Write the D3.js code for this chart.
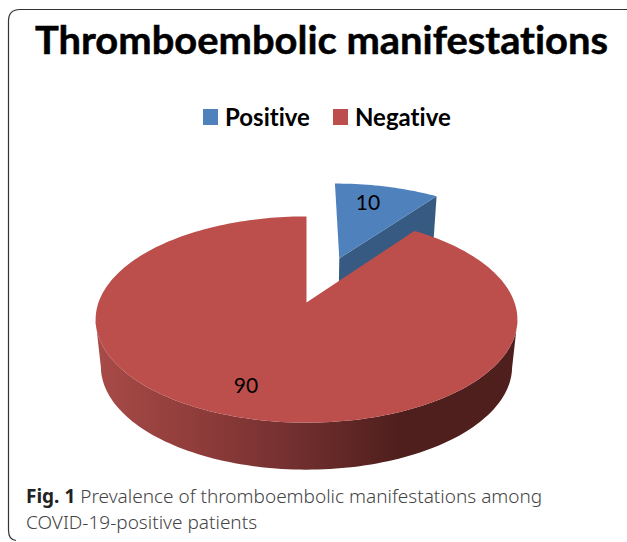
<!DOCTYPE html>
<html>
<head>
<meta charset="utf-8">
<script src="https://cdn.jsdelivr.net/npm/d3@7"></script>
<style>
html, body { margin: 0; padding: 0; background: #fff; overflow: hidden; }
svg { display: block; }
text { font-variant-ligatures: none; }
</style>
</head>
<body>
<div id="chart"></div>
<script>
var categories = ['Positive', 'Negative'];
var values = [10, 90];
var chartTitle = 'Thromboembolic manifestations';
var captionBold = 'Fig. 1';
var captionLine1 = ' Prevalence of thromboembolic manifestations among';
var captionLine2 = 'COVID-19-positive patients';

var topColors = ['#4f81bd', '#bc4f4c'];
var sideColors = ['#375a82', '#4f1f1d'];

var width = 627;
var height = 542;

var svg = d3.select('#chart').append('svg')
    .attr('width', width)
    .attr('height', height);

// perspective of the tilted disk: unit circle -> screen
var cx = 306.5;
var persp = -0.165;
var wide = 208;
var depth = 47;

function project(u, v){
    var w = 1 + persp * v;
    return [cx + wide * u / w, (302.5 + 50.4 * v) / w];
}

function lower(p){
    return [cx + (p[0] - cx) * 0.975, p[1] + depth];
}

var pie = d3.pie().sort(null);
var arcs = pie(values);
var line = d3.line();

// points of one slice on the unit circle, offset for the pulled out slice
function rim(d, ox, oy){
    var n = Math.max(2, Math.ceil((d.endAngle - d.startAngle) * 40));
    return d3.range(n + 1).map(function(i){
        var a = d.startAngle + (d.endAngle - d.startAngle) * i / n;
        return project(ox + Math.sin(a), oy - Math.cos(a));
    });
}

var defs = svg.append('defs');
var grad = defs.append('linearGradient')
    .attr('id', 'sideGrad')
    .attr('gradientUnits', 'userSpaceOnUse')
    .attr('x1', 95).attr('x2', 517).attr('y1', 0).attr('y2', 0);
[[0, '#a84b48'], [0.25, '#8e3c3a'], [0.45, '#753130'], [0.72, '#4f1f1d'], [1, '#4f1f1d']].forEach(function(s){
    grad.append('stop').attr('offset', s[0]).attr('stop-color', s[1]);
});

// frame
svg.append('path')
    .attr('d', 'M627,9.5 H20 Q8.5,9.5 8.5,21 V530 Q8.5,540 16,540.5')
    .attr('fill', 'none')
    .attr('stroke', '#333')
    .attr('stroke-width', 1.2);

// title
svg.append('text')
    .attr('x', 321.5)
    .attr('y', 54)
    .attr('text-anchor', 'middle')
    .attr('font-family', 'Lato')
    .attr('font-weight', 'bold')
    .attr('font-size', 39)
    .attr('textLength', 573)
    .attr('lengthAdjust', 'spacingAndGlyphs')
    .attr('fill', '#000')
    .attr('stroke', '#000')
    .attr('stroke-width', 0.5)
    .text(chartTitle);

// legend
var legendX = d3.scaleOrdinal().domain(categories).range([203, 333]);
var legend = svg.selectAll('.legend')
    .data(categories)
    .enter()
    .append('g')
    .attr('class', 'legend')
    .attr('transform', function(d){ return 'translate(' + legendX(d) + ',109)'; });
legend.append('rect')
    .attr('width', 15)
    .attr('height', 16)
    .attr('fill', function(d, i){ return topColors[i]; });
legend.append('text')
    .attr('x', 22)
    .attr('y', 17)
    .attr('font-family', 'Lato')
    .attr('font-weight', 'bold')
    .attr('font-size', 24)
    .attr('fill', '#000')
    .text(function(d){ return d; });

// pulled out slice
var ex = 0.17, ey = -0.474;
var posRim = rim(arcs[0], ex, ey);
var posApex = project(ex, ey);
var posEnd = posRim[posRim.length - 1];

svg.append('path')
    .attr('d', line([posApex, posEnd, lower(posEnd), lower(posApex)]) + 'Z')
    .attr('fill', sideColors[0]);
svg.append('path')
    .attr('d', line([posApex].concat(posRim)) + 'Z')
    .attr('fill', topColors[0]);

// big slice, wall runs between the two widest points of the rim
var negRim = rim(arcs[1], 0, 0);
var frontRim = negRim.filter(function(p, i){
    var a = arcs[1].startAngle + (arcs[1].endAngle - arcs[1].startAngle) * i / (negRim.length - 1);
    return Math.cos(a) <= persp;
});

svg.append('path')
    .attr('d', line(frontRim.concat(frontRim.slice().reverse().map(lower))) + 'Z')
    .attr('fill', 'url(#sideGrad)');
svg.append('path')
    .attr('d', line([project(0, 0)].concat(negRim)) + 'Z')
    .attr('fill', topColors[1]);

// data labels
var labelPos = [[368, 210], [246, 393]];
svg.selectAll('.value')
    .data(values)
    .enter()
    .append('text')
    .attr('class', 'value')
    .attr('x', function(d, i){ return labelPos[i][0]; })
    .attr('y', function(d, i){ return labelPos[i][1]; })
    .attr('text-anchor', 'middle')
    .attr('font-family', 'Lato')
    .attr('font-size', 21)
    .attr('fill', '#000')
    .text(function(d){ return d; });

// caption
var cap1 = svg.append('text')
    .attr('x', 26)
    .attr('y', 503)
    .attr('font-family', 'Noto Sans')
    .attr('font-size', 19)
    .attr('font-weight', 300)
    .attr('fill', '#444')
    .attr('xml:space', 'preserve');
cap1.append('tspan')
    .attr('font-weight', 'bold')
    .attr('fill', '#222')
    .text(captionBold);
cap1.append('tspan').text(captionLine1);

svg.append('text')
    .attr('x', 26)
    .attr('y', 529)
    .attr('font-family', 'Noto Sans')
    .attr('font-size', 19)
    .attr('font-weight', 300)
    .attr('fill', '#444')
    .text(captionLine2);
</script>
</body>
</html>
